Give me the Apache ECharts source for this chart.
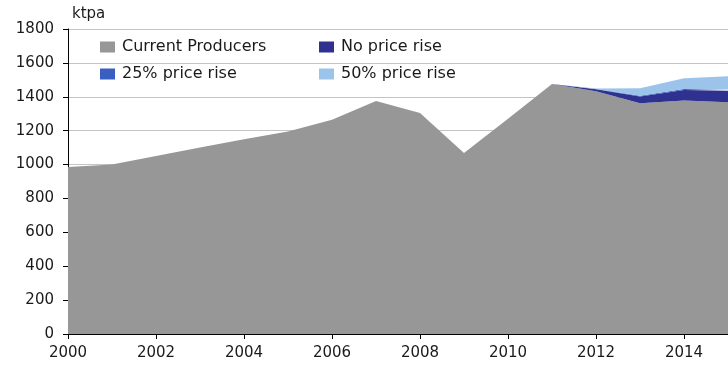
<!DOCTYPE html>
<html>
<head>
<meta charset="utf-8">
<script src="https://cdn.jsdelivr.net/npm/echarts@6/dist/echarts.min.js"></script>
<style>
  html, body { margin: 0; padding: 0; background: #ffffff; }
  #chart { width: 728px; height: 366px; }
</style>
</head>
<body>
<div id="chart"></div>
<script>
// Supply outlook, ktpa (stacked areas)
const years = ['2000','2001','2002','2003','2004','2005','2006','2007','2008','2009','2010','2011','2012','2013','2014','2015'];
const currentProducers = [985, 1000, 1050, 1100, 1150, 1195, 1265, 1375, 1304, 1068, 1270, 1475, 1432, 1362, 1378, 1368];
const noPriceRise      = [null, null, null, null, null, null, null, null, null, null, null, 0, 12, 40, 62, 68];
const priceRise25      = [null, null, null, null, null, null, null, null, null, null, null, 0, 2, 4, 6, 7];
const priceRise50      = [null, null, null, null, null, null, null, null, null, null, null, 0, 3, 44, 63, 78];

const seriesNames = ['Current Producers', 'No price rise', '25% price rise', '50% price rise'];
const seriesColors = ['#979797', '#2f3190', '#3a5fc0', '#9cc4ea'];
const seriesData = [currentProducers, noPriceRise, priceRise25, priceRise50];

const font = 'DejaVu Sans';
const textColor = '#1a1a1a';

// one legend block per entry, laid out in two columns
const legendSpots = [
  { left: 100, top: 39 },
  { left: 319, top: 39 },
  { left: 100, top: 66 },
  { left: 319, top: 66 }
];
const legends = seriesNames.map((name, i) => ({
  data: [name],
  left: legendSpots[i].left,
  top: legendSpots[i].top,
  padding: 0,
  itemGap: 0,
  itemWidth: 15,
  itemHeight: 11,
  icon: 'rect',
  selectedMode: false,
  textStyle: { fontFamily: font, fontSize: 16, color: textColor, padding: [0, 0, 0, 2] }
}));

const chart = echarts.init(document.getElementById('chart'), null, { renderer: 'canvas' });
chart.setOption({
  animation: false,
  backgroundColor: '#ffffff',
  color: seriesColors,
  legend: legends,
  grid: { left: 68, right: -12, top: 29, bottom: 32, containLabel: false },
  xAxis: {
    type: 'category',
    data: years,
    boundaryGap: false,
    axisLine: { lineStyle: { color: '#000000', width: 1 } },
    axisTick: { show: true, interval: 1, length: 5, inside: false, lineStyle: { color: '#000000' } },
    axisLabel: { interval: 1, margin: 12, fontFamily: font, fontSize: 15, color: textColor },
    splitLine: { show: false }
  },
  yAxis: {
    type: 'value',
    min: 0,
    max: 1800,
    interval: 200,
    name: 'ktpa',
    nameLocation: 'end',
    nameGap: 7,
    nameTextStyle: { fontFamily: font, fontSize: 15, color: textColor, align: 'left', padding: [0, 0, 0, 4] },
    axisLine: { show: true, lineStyle: { color: '#000000', width: 1 } },
    axisTick: { show: true, length: 5, lineStyle: { color: '#000000' } },
    axisLabel: { margin: 14, fontFamily: font, fontSize: 15, color: textColor, formatter: (v) => String(v) },
    splitLine: { show: true, lineStyle: { color: '#c4c4c4', width: 1 } }
  },
  series: seriesNames.map((name, i) => ({
    name: name,
    type: 'line',
    stack: 'supply',
    data: seriesData[i],
    symbol: 'none',
    lineStyle: { width: 0 },
    areaStyle: { color: seriesColors[i], opacity: 1 },
    itemStyle: { color: seriesColors[i] },
    emphasis: { disabled: true }
  }))
});
</script>
</body>
</html>
